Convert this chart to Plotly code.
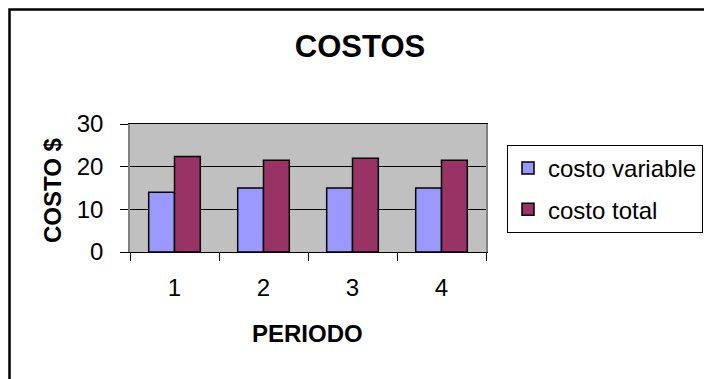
import plotly.graph_objects as go

periods = ["1", "2", "3", "4"]
costo_variable = [14, 15, 15, 15]
costo_total = [22.4, 21.5, 22, 21.5]
y_ticks = [0, 10, 20, 30]

FONT = "Liberation Sans, Arial, sans-serif"

fig = go.Figure()
fig.add_trace(go.Bar(
    x=periods, y=costo_variable, name="costo variable", legendgroup="a",
    marker=dict(color="#9999FF", line=dict(color="black", width=1.5)),
))
fig.add_trace(go.Bar(
    x=periods, y=costo_total, name="costo total", legendgroup="b",
    marker=dict(color="#993366", line=dict(color="black", width=1.5)),
))

fig.update_layout(
    width=704, height=379,
    margin=dict(l=130, r=218, t=124, b=127, autoexpand=False),
    paper_bgcolor="white",
    plot_bgcolor="#C0C0C0",
    font=dict(family=FONT, size=24, color="black"),
    barmode="group",
    bargap=0.42,
    bargroupgap=0,
    showlegend=True,
    title=dict(
        text="<b>COSTOS</b>", font=dict(family=FONT, size=31, color="black"),
        x=360 / 704, xref="container", xanchor="center",
        y=1 - 46 / 379, yref="container", yanchor="middle",
    ),
    legend=dict(
        xref="container", yref="container",
        x=507 / 704, xanchor="left",
        y=1 - 145 / 379, yanchor="top",
        bordercolor="black", borderwidth=1, bgcolor="white",
        font=dict(family=FONT, size=24, color="black"),
        traceorder="grouped",
        tracegroupgap=7,
    ),
    xaxis=dict(
        type="category", tickson="boundaries",
        ticks="outside", ticklen=8, tickcolor="black", tickwidth=1,
        showline=True, linecolor="black", linewidth=1, mirror=True,
        showgrid=False, ticklabelstandoff=14,
        tickfont=dict(family=FONT, size=24, color="black"),
    ),
    yaxis=dict(
        range=[0, 30], tickvals=y_ticks,
        ticks="outside", ticklen=8, tickcolor="black", tickwidth=1,
        showline=True, linecolor="#808080", linewidth=1.5, mirror=True,
        showgrid=True, gridcolor="black", gridwidth=1,
        zeroline=False, ticklabelstandoff=12,
        tickfont=dict(family=FONT, size=24, color="black"),
    ),
    annotations=[
        dict(text="<b>COSTO $</b>", xref="paper", yref="paper",
             x=(52 - 130) / 356, y=(252 - 190) / 128,
             xanchor="center", yanchor="middle", textangle=-90,
             showarrow=False, font=dict(family=FONT, size=24, color="black")),
        dict(text="<b>PERIODO</b>", xref="paper", yref="paper",
             x=(307 - 130) / 356, y=(252 - 333) / 128,
             xanchor="center", yanchor="middle",
             showarrow=False, font=dict(family=FONT, size=24, color="black")),
    ],
    shapes=[
        dict(type="rect", xref="paper", yref="paper",
             x0=(9.5 - 130) / 356, x1=2.0,
             y0=-3.0, y1=(252 - 9.5) / 128,
             line=dict(color="black", width=2.5), fillcolor="rgba(0,0,0,0)",
             layer="above"),
    ],
)

fig.write_html(
    "out.html",
    config={"displayModeBar": False},
    post_script="document.body.style.margin='0';document.body.style.overflow='hidden';",
)
